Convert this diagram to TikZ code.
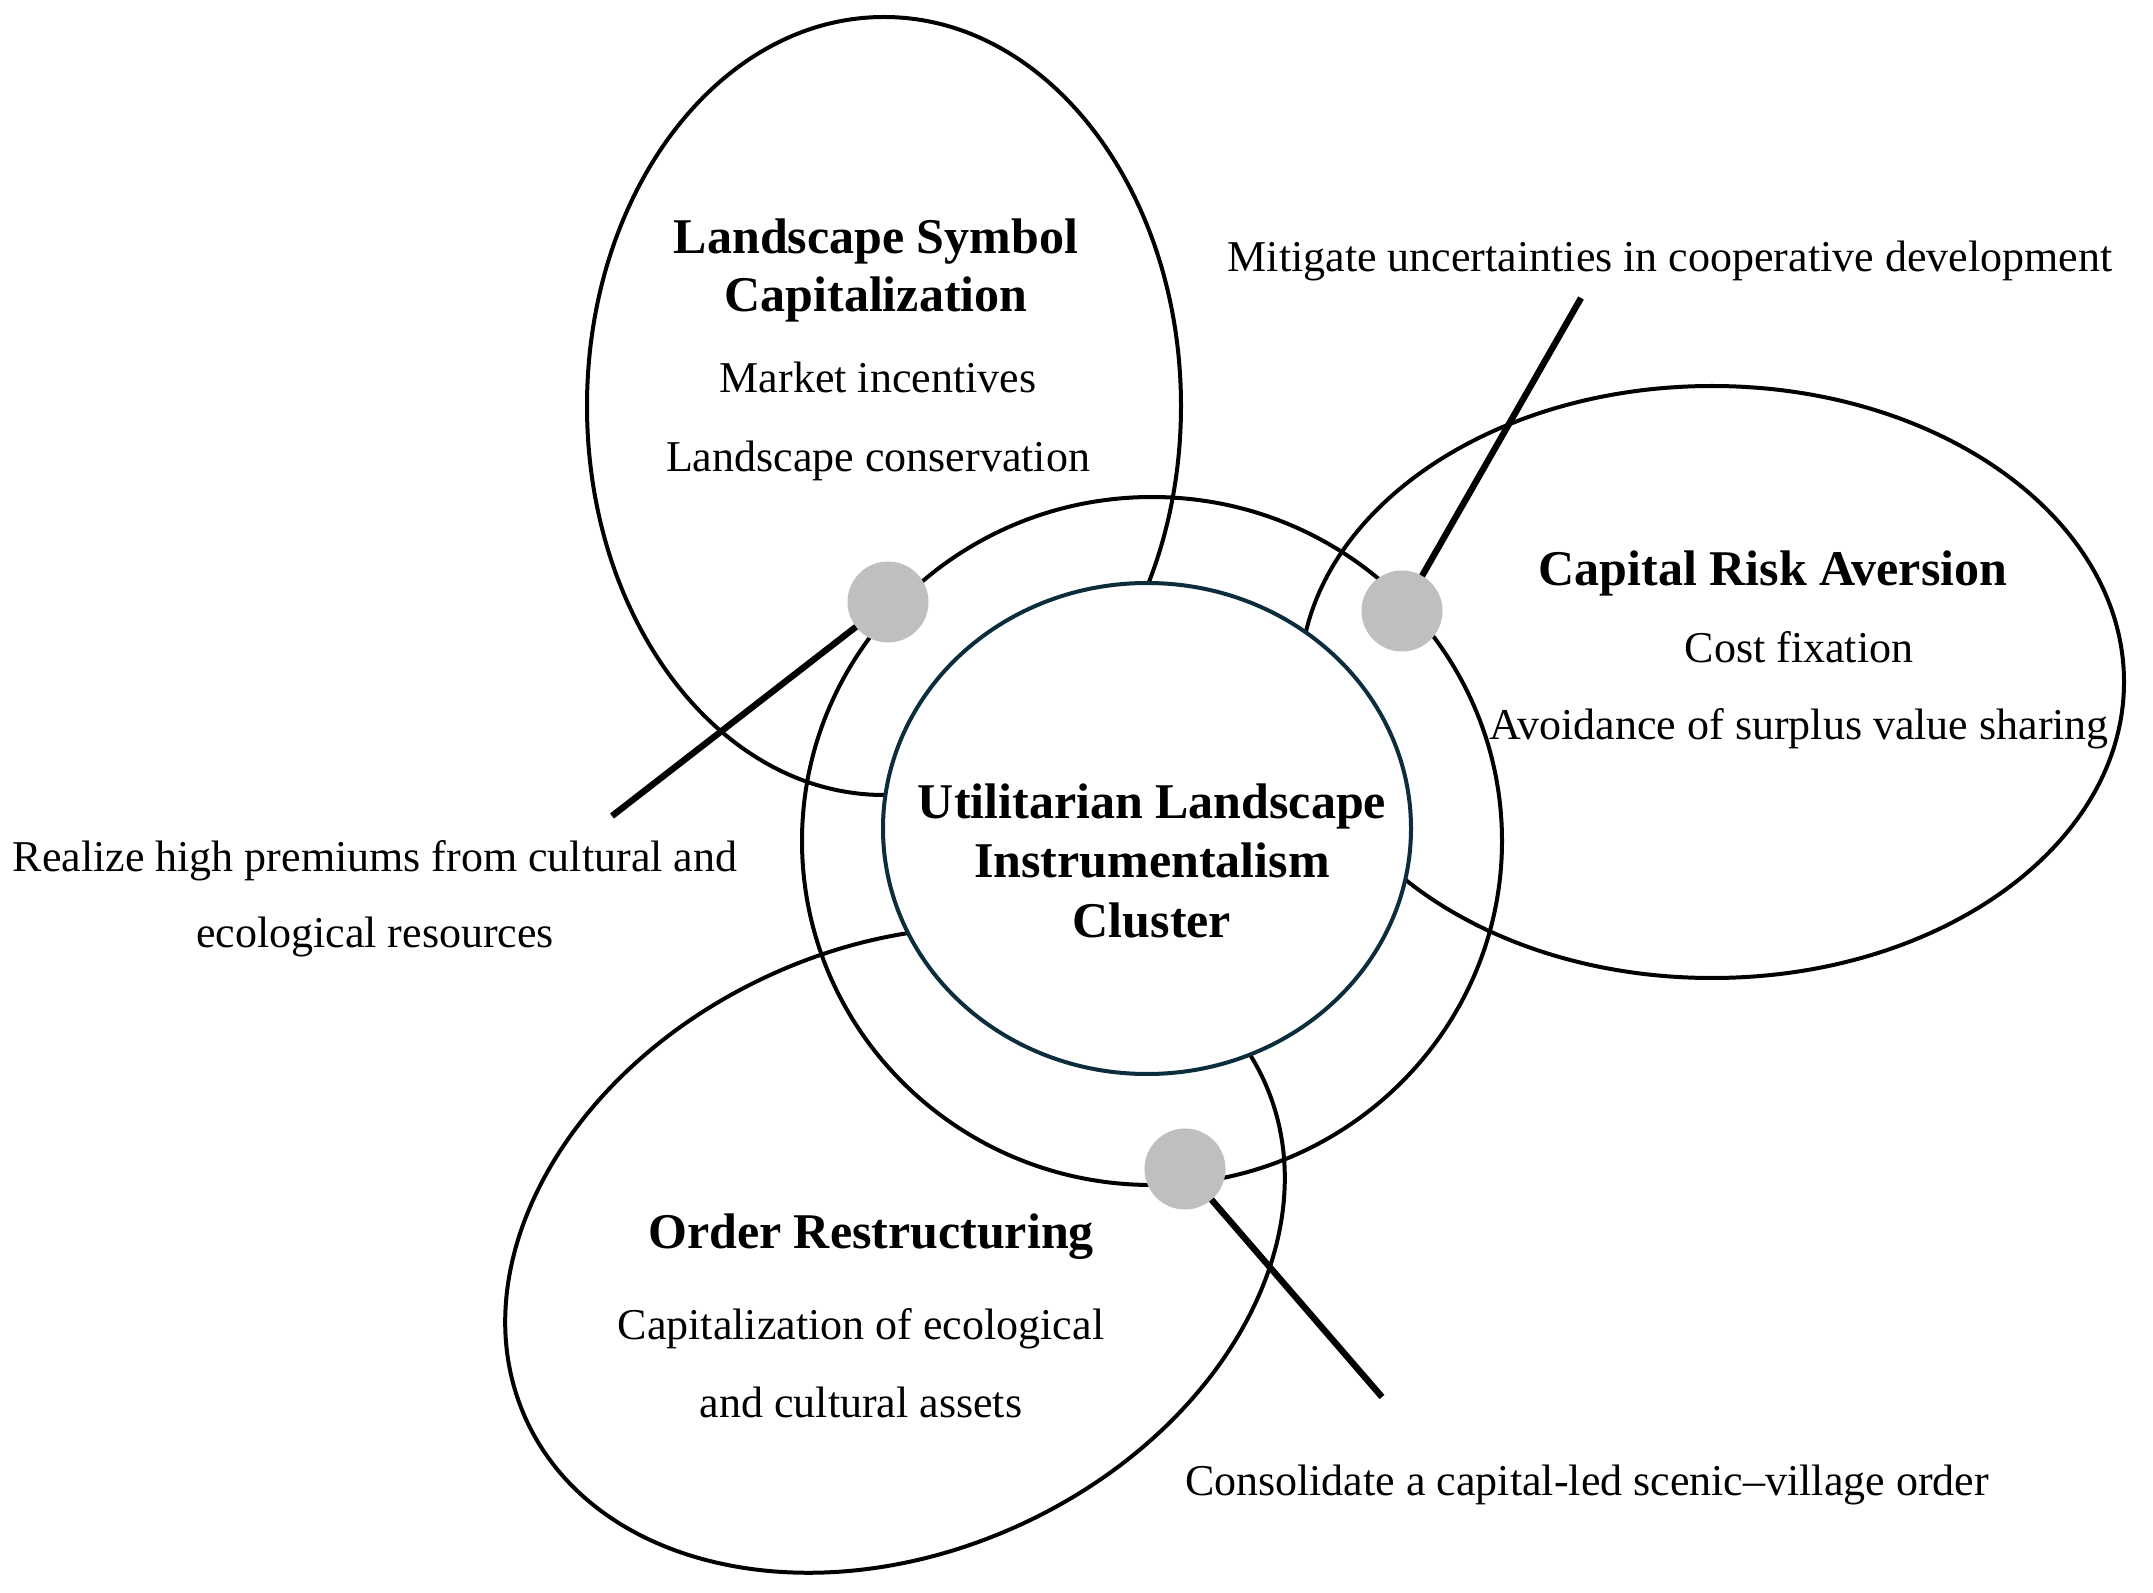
\documentclass[tikz,border=0pt]{standalone}
\usepackage{fontspec}
\setmainfont{Liberation Serif}
\usetikzlibrary{shapes.geometric}
\definecolor{navy}{RGB}{12,45,60}
\definecolor{dotgray}{RGB}{191,191,191}
\begin{document}
\begin{tikzpicture}[x=0.5pt,y=-0.5pt,
  ring/.style={ellipse, draw=black, line width=2pt, inner sep=0pt, outer sep=0pt},
  dot/.style={circle, fill=dotgray, inner sep=0pt, outer sep=0pt, minimum size=40.5pt},
  lead/.style={line width=3.2pt, draw=black},
  head/.style={font=\fontsize{25}{30}\selectfont\bfseries, anchor=base, inner sep=0pt},
  item/.style={font=\fontsize{22}{26}\selectfont, anchor=base, inner sep=0pt}]
\useasboundingbox[fill=white] (0,0) rectangle (2153,1593);
% ellipses
\node[ring, minimum width=297pt, minimum height=389pt] (ls) at (884,406) {};
\node[ring, minimum width=412pt, minimum height=296pt] (cr) at (1712,682) {};
\node[ring, minimum width=406pt, minimum height=302pt, rotate=24.8] (ors) at (895,1250) {};
\node[ring, minimum width=350pt, minimum height=344pt] (outer) at (1152,841) {};
\node[ring, draw=navy, fill=white, minimum width=264pt, minimum height=245.5pt] (inner) at (1147,828.5) {};
% dots and leaders
\node[dot] (d1) at (888,602) {};
\node[dot] (d2) at (1402,611) {};
\node[dot] (d3) at (1185,1169) {};
\coordinate (e1) at (612,816);
\coordinate (e2) at (1581,298);
\coordinate (e3) at (1382,1397);
\draw[lead] (d1) -- (e1);
\draw[lead] (d2) -- (e2);
\draw[lead] (d3) -- (e3);
% texts
\node[head] (t1a) at (876,254) {Landscape Symbol};
\node[head] (t1b) at (876,312) {Capitalization};
\node[item] (t1c) at (878,393) {Market incentives};
\node[item] (t1d) at (878,472) {Landscape conservation};
\node[head] (c1) at (1152,818) {Utilitarian Landscape};
\node[head] (c2) at (1152,877) {Instrumentalism};
\node[head] (c3) at (1152,937) {Cluster};
\node[head] (t2a) at (1773,586) {Capital Risk Aversion};
\node[item] (t2b) at (1799,662) {Cost fixation};
\node[item] (t2c) at (1799,740) {Avoidance of surplus value sharing};
\node[head] (t3a) at (871,1248) {Order Restructuring};
\node[item] (t3b) at (861,1339) {Capitalization of ecological};
\node[item] (t3c) at (861,1417) {and cultural assets};
\node[item] (l1a) at (375,871) {Realize high premiums from cultural and};
\node[item] (l1b) at (375,947) {ecological resources};
\node[item] (l2) at (1670,272) {Mitigate uncertainties in cooperative development};
\node[item] (l3) at (1587,1495) {Consolidate a capital-led scenic–village order};
\end{tikzpicture}
\end{document}
